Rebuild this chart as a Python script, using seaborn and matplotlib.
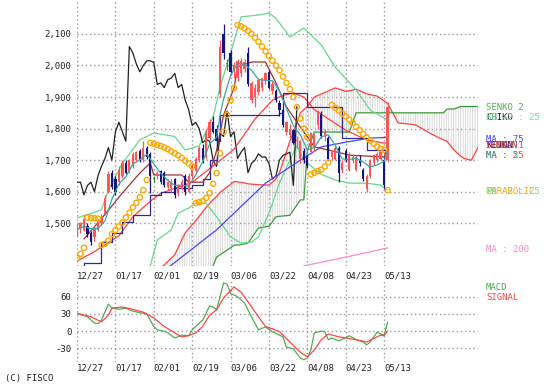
import matplotlib
matplotlib.use("Agg")
import matplotlib.pyplot as plt
import seaborn as sns

# ---- price candles (trading day index, 12/27 = 0) ----
opens = [1470, 1485, 1480, 1490, 1468, 1455, 1480, 1500, 1530, 1600,
         1660, 1640, 1630, 1650, 1690, 1665, 1680, 1700, 1730, 1700,
         1740, 1720, 1640, 1650, 1665, 1660, 1615, 1612, 1640, 1595,
         1610, 1650, 1600, 1650, 1665, 1700, 1740, 1710, 1770, 1820,
         1800, 1910, 2100, 2005, 2040, 1985, 1960, 1975, 1990, 2040,
         1890, 1900, 1915, 1930, 1950, 1980, 1920, 1920, 1880, 1860,
         1790, 1780, 1795, 1760, 1705, 1730, 1710, 1725, 1740, 1810,
         1845, 1780, 1770, 1710, 1705, 1740, 1670, 1730, 1670, 1700,
         1670, 1700, 1670, 1610, 1650, 1690, 1700, 1705, 1700, 1700]
highs = [1500, 1505, 1525, 1500, 1475, 1490, 1515, 1530, 1590, 1665,
         1670, 1650, 1680, 1700, 1700, 1705, 1725, 1730, 1735, 1760,
         1745, 1725, 1650, 1665, 1670, 1665, 1640, 1640, 1645, 1625,
         1640, 1655, 1660, 1690, 1710, 1745, 1750, 1800, 1830, 1840,
         1810, 2080, 2130, 2020, 2050, 2010, 2020, 2025, 2020, 2060,
         1950, 1940, 1960, 1965, 1980, 1985, 1950, 1925, 1890, 1865,
         1825, 1815, 1800, 1775, 1765, 1740, 1715, 1790, 1785, 1860,
         1855, 1800, 1775, 1730, 1745, 1745, 1700, 1735, 1725, 1720,
         1715, 1715, 1675, 1655, 1705, 1720, 1725, 1730, 1710, 1885]
lows = [1460, 1470, 1475, 1455, 1430, 1445, 1475, 1495, 1525, 1595,
        1610, 1590, 1620, 1645, 1655, 1660, 1675, 1695, 1695, 1695,
        1705, 1595, 1630, 1640, 1625, 1615, 1605, 1600, 1580, 1585,
        1605, 1590, 1595, 1640, 1660, 1695, 1690, 1705, 1765, 1785,
        1745, 1900, 2020, 1985, 1970, 1960, 1950, 1965, 1980, 1935,
        1880, 1870, 1905, 1920, 1940, 1925, 1910, 1885, 1840, 1805,
        1780, 1770, 1750, 1740, 1690, 1690, 1675, 1720, 1730, 1800,
        1770, 1760, 1700, 1700, 1700, 1630, 1660, 1695, 1665, 1690,
        1665, 1680, 1635, 1600, 1645, 1685, 1695, 1700, 1605, 1695]
closes = [1495, 1500, 1515, 1465, 1442, 1485, 1510, 1520, 1580, 1655,
          1615, 1600, 1670, 1690, 1660, 1700, 1720, 1725, 1700, 1740,
          1710, 1650, 1640, 1660, 1630, 1620, 1630, 1630, 1590, 1620,
          1630, 1600, 1650, 1680, 1705, 1740, 1700, 1790, 1820, 1790,
          1760, 2060, 2040, 2005, 1980, 2000, 2015, 2015, 2010, 1940,
          1945, 1930, 1955, 1960, 1975, 1930, 1940, 1890, 1860, 1810,
          1820, 1800, 1755, 1765, 1760, 1700, 1680, 1785, 1775, 1855,
          1775, 1790, 1705, 1725, 1740, 1660, 1690, 1700, 1720, 1710,
          1710, 1690, 1640, 1650, 1700, 1715, 1720, 1725, 1620, 1870]

# ---- parabolic SAR (one per day) ----
sar = [1390, 1403, 1422, 1518, 1517, 1516, 1515, 1431, 1435, 1445,
       1465, 1478, 1490, 1502, 1518, 1533, 1550, 1565, 1582, 1605,
       1637, 1755, 1752, 1748, 1745, 1740, 1735, 1728, 1722, 1715,
       1707, 1698, 1690, 1680, 1564, 1567, 1570, 1580, 1596, 1625,
       1659, 1722, 1790, 1843, 1890, 1929, 2128, 2124, 2118, 2110,
       2100, 2088, 2075, 2060, 2045, 2030, 2015, 2000, 1985, 1965,
       1945, 1925, 1900, 1868, 1832, 1800, 1773, 1655, 1660, 1665,
       1670, 1680, 1693, 1875, 1866, 1857, 1848, 1839, 1828, 1818,
       1806, 1795, 1783, 1772, 1762, 1752, 1743, 1736, 1733, 1605]

# ---- chiko span (black), drawn 26 days back ----
chiko = [1630, 1630, 1590, 1620, 1630, 1600, 1650, 1680, 1705, 1740,
         1700, 1790, 1820, 1790, 1760, 2060, 2040, 2005, 1980, 2000,
         2015, 2015, 2010, 1940, 1945, 1930, 1955, 1960, 1975, 1930,
         1940, 1890, 1860, 1810, 1820, 1800, 1755, 1765, 1760, 1700,
         1680, 1785, 1775, 1855, 1775, 1790, 1705, 1725, 1740, 1660,
         1690, 1700, 1720, 1710, 1710, 1690, 1640, 1650, 1700, 1715,
         1720, 1725, 1620, 1870]

# ---- moving averages ----
ma5_idx = [0, 2, 4, 6, 8, 10, 12, 14, 16, 18, 20, 22, 24, 26, 28, 30, 32, 34, 36, 38,
           40, 41, 42, 44, 46, 48, 50, 52, 54, 56, 58, 60, 62, 64, 66, 68, 70, 72, 74,
           76, 78, 80, 82, 84, 86, 88, 89]
ma5_val = [1480, 1490, 1483, 1483, 1507, 1576, 1624, 1647, 1688, 1701, 1719, 1688, 1658,
           1636, 1620, 1620, 1618, 1653, 1695, 1751, 1772, 1844, 1894, 1968, 2007, 2004,
           1985, 1956, 1953, 1952, 1919, 1864, 1809, 1780, 1732, 1740, 1774, 1780, 1747,
           1704, 1702, 1706, 1694, 1678, 1685, 1696, 1730]
ma25_idx = [0, 5, 12, 16, 21, 24, 33, 40, 45, 51, 56, 59, 62, 65, 68, 77, 83, 88, 89]
ma25_val = [1380, 1410, 1460, 1520, 1570, 1595, 1630, 1690, 1735, 1830, 1890, 1905,
            1913, 1900, 1860, 1795, 1764, 1754, 1755]
ma75_idx = [21, 27, 40, 54, 64, 70, 77, 84, 89]
ma75_val = [1320, 1367, 1479, 1627, 1700, 1742, 1757, 1770, 1772]
ma200_idx = [65, 78, 89]
ma200_val = [1365, 1395, 1422]

# ---- bollinger bands (25, +-2) ----
bbu_idx = [0, 7, 9, 13, 18, 22, 28, 31, 35, 39, 41, 44, 47, 52, 55, 57, 61, 65, 70, 74,
           80, 84, 89]
bbu_val = [1517, 1542, 1605, 1690, 1764, 1786, 1775, 1732, 1745, 1837, 1932, 2040, 2154,
           2160, 2166, 2150, 2090, 2119, 2065, 1995, 1922, 1859, 1827]
bbl_idx = [18, 21, 23, 27, 29, 32, 34, 37, 40, 44, 47, 50, 52, 55, 58, 61, 63, 65, 70,
           74, 78, 83, 87, 89]
bbl_val = [1345, 1365, 1447, 1479, 1532, 1548, 1564, 1564, 1520, 1457, 1437, 1440, 1457,
           1532, 1627, 1700, 1745, 1700, 1655, 1637, 1627, 1627, 1621, 1605]

# ---- ichimoku ----
tenkan_idx = [2, 9, 13, 18, 21, 22, 30, 32, 36, 38, 40, 42, 45, 46, 50, 54, 57, 60, 64,
              68, 74, 78, 88, 89]
tenkan_val = [1450, 1541, 1596, 1659, 1691, 1653, 1653, 1630, 1630, 1660, 1730, 1843, 1929,
              1996, 2011, 2011, 1945, 1869, 1805, 1742, 1727, 1716, 1710, 1740]
kijun_idx = [0, 2, 7, 10, 13, 16, 21, 24, 28, 33, 36, 38, 40, 41, 58, 59, 66, 76, 83, 89]
kijun_val = [1360, 1373, 1440, 1470, 1505, 1527, 1590, 1599, 1612, 1621, 1640, 1700, 1760,
             1843, 1849, 1913, 1869, 1770, 1732, 1732]
cloud_idx = [20, 25, 28, 31, 34, 37, 39, 40, 41, 45, 47, 49, 52, 55, 57, 58, 61, 64, 65,
             66, 68, 74, 77, 78, 80, 83, 86, 89, 92, 97, 101, 105, 106, 108, 110, 111,
             113, 115]
senko1 = [1320, 1368, 1400, 1470, 1508, 1550, 1575, 1585, 1598, 1632, 1630, 1625, 1622,
          1621, 1640, 1660, 1760, 1850, 1860, 1870, 1900, 1929, 1918, 1920, 1925, 1910,
          1903, 1880, 1818, 1812, 1786, 1764, 1760, 1732, 1712, 1705, 1700, 1742]
senko2 = [1250, 1280, 1290, 1300, 1320, 1340, 1365, 1393, 1400, 1430, 1432, 1437, 1485,
          1490, 1520, 1522, 1525, 1574, 1574, 1730, 1789, 1789, 1789, 1789, 1850, 1850,
          1850, 1850, 1850, 1850, 1850, 1850, 1862, 1862, 1870, 1870, 1870, 1870]

# ---- MACD panel ----
macd_idx = [0, 3, 5, 6, 7, 9, 10, 12, 14, 16, 18, 20, 22, 23, 25, 26, 28, 29, 30, 32, 33,
            35, 36, 38, 39, 40, 42, 43, 44, 46, 48, 50, 52, 53, 54, 56, 58, 59, 60, 62,
            64, 65, 66, 67, 68, 70, 71, 72, 73, 75, 77, 78, 80, 82, 83, 84, 86, 87, 88, 89]
macd_val = [31, 25, 14, 13, 19, 47, 40, 38, 40, 35, 32, 30, 8, 2, 0, -3, -12, -10, -7,
            -8, 2, 14, 19, 44, 42, 37, 84, 82, 66, 60, 49, 25, 2, 5, 7, -1, -7, -10, -28,
            -31, -47, -50, -47, -33, -3, 0, -1, -15, -12, -17, -12, -8, -15, -19, -24, -19,
            -2, -5, -7, 16]
signal_idx = [0, 4, 7, 9, 10, 13, 16, 19, 22, 25, 28, 30, 32, 34, 36, 38, 40, 42, 45, 47,
              49, 52, 54, 56, 58, 61, 64, 66, 68, 70, 72, 75, 77, 80, 83, 87, 88, 89]
signal_val = [31, 25, 16, 28, 40, 42, 38, 33, 23, 8, -3, -10, -8, -3, 8, 28, 37, 58, 77,
              68, 51, 25, 8, 4, -1, -19, -37, -45, -33, -15, -5, -10, -12, -15, -19, -7,
              -8, 0]

date_ticks = [0, 11, 22, 33, 44, 55, 66, 77, 88]
date_labels = ["12/27", "01/17", "02/01", "02/19", "03/06", "03/22", "04/08", "04/23", "05/13"]
price_ticks = [1500, 1600, 1700, 1800, 1900, 2000, 2100]
macd_ticks = [60, 30, 0, -30]

sns.set_style("white")
plt.rcParams["font.family"] = ["DejaVu Sans Mono"]
plt.rcParams["font.size"] = 6.5
plt.rcParams["hatch.linewidth"] = 0.5

W, H = 559, 391
fig = plt.figure(figsize=(W / 100, H / 100), dpi=100)
ax = fig.add_axes([77 / W, 1 - 266 / H, 401 / W, 266 / H])
mx = fig.add_axes([77 / W, 1 - 362 / H, 401 / W, 81 / H])
XMAX = 401 / 3.49

grid = dict(color="#999999", lw=1, ls=(0, (1, 2)), zorder=0)


def line(a, x, y, color, lw=0.9, **kw):
    sns.lineplot(x=x, y=y, ax=a, color=color, lw=lw, estimator=None, sort=False,
                 legend=False, **kw)


for a in (ax, mx):
    for s in a.spines.values():
        s.set_visible(False)
    a.set_xlim(0, XMAX)
    a.tick_params(length=0, colors="#222222", labelsize=6.5)
    for t in date_ticks:
        a.axvline(t, **grid)
    a.set_xticks(date_ticks)
    a.set_xticklabels(date_labels, ha="left")

ax.set_ylim(1364.5, 2207.6)
ax.set_yticks(price_ticks)
ax.set_yticklabels([f"{p:,}" for p in price_ticks])
for p in price_ticks:
    ax.axhline(p, **grid)
ax.tick_params(axis="x", pad=4)
ax.tick_params(axis="y", pad=4)

# cloud
ax.fill_between(cloud_idx, senko1, senko2, facecolor="none", edgecolor="#cccccc",
                hatch="|||||||", lw=0, zorder=1)
line(ax, cloud_idx, senko1, "#ff4040")
line(ax, cloud_idx, senko2, "#3a9a3a")

# indicator lines
line(ax, bbu_idx, bbu_val, "#66d98c")
line(ax, bbl_idx, bbl_val, "#66d98c")
line(ax, list(range(len(chiko))), chiko, "#222222")
line(ax, ma200_idx, ma200_val, "#ff88c8")
line(ax, ma75_idx, ma75_val, "#4646ff")
line(ax, ma25_idx, ma25_val, "#ff4040")
line(ax, kijun_idx, kijun_val, "#2b2b99", drawstyle="steps-post")
line(ax, tenkan_idx, tenkan_val, "#a03232")

# candles
days = list(range(len(closes)))
cols = ["#ff5555" if c > o else ("#141482" if c < o else "#2f8f2f")
        for o, c in zip(opens, closes)]
ax.vlines(days, lows, highs, colors=cols, lw=0.9, zorder=3)
ax.bar(days, [max(abs(c - o), 3) for o, c in zip(opens, closes)],
       bottom=[min(o, c) for o, c in zip(opens, closes)], width=0.65, color=cols,
       lw=0, zorder=3)
line(ax, ma5_idx, ma5_val, "#3aa6a6", zorder=4)
ax.scatter(days, sar, s=14, facecolors="none", edgecolors="#ffa800", linewidths=1.0,
           zorder=5)

# MACD
mx.set_ylim(-53.9, 87.4)
mx.set_yticks(macd_ticks)
mx.set_yticklabels([str(v) for v in macd_ticks])
for v in macd_ticks:
    mx.axhline(v, **grid)
mx.tick_params(axis="x", pad=1)
mx.tick_params(axis="y", pad=4)
line(mx, macd_idx, macd_val, "#55aa55")
line(mx, signal_idx, signal_val, "#ff4545")

# labels on the right (overlapping in the original, kept close together)
legend = [
    (108, "SENKO 2", "#55aa55"), (117, "CHIKO", "#222222"), (118, "BB +2 : 25", "#77dd99"),
    (139, "MA : 75", "#4646ff"), (146, "SENKO 1", "#ff4040"), (146, "KIJUN", "#2b2b99"),
    (146, "TENKAN", "#a03232"), (155, "MA : 25", "#ff4040"), (156, "MA : 5", "#3aa6a6"),
    (191, "PARABOLIC", "#ffa800"), (191, "BB -2 : 25", "#77dd99"),
    (249, "MA : 200", "#ff88c8"), (287, "MACD", "#55aa55"), (297, "SIGNAL", "#ff4545"),
]
for y, txt, c in legend:
    fig.text(486 / W, 1 - y / H, txt, color=c, va="center", ha="left", fontsize=6.5)
fig.text(5 / W, 1 - 378 / H, "(C) FISCO", color="#222222", va="center", fontsize=6.5)

fig.savefig("out.png", dpi=100)
